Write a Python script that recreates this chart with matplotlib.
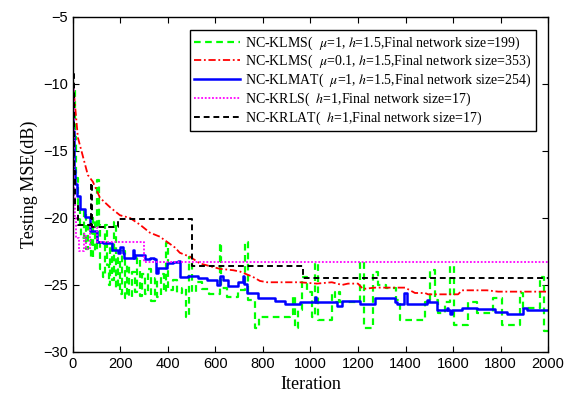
import numpy as np
import matplotlib
matplotlib.use('Agg')
import matplotlib.pyplot as plt

plt.rcParams['mathtext.fontset'] = 'stix'

# NC-KLMS mu=1 (green)
klms1_it = [0, 5, 10, 15, 20, 28, 35, 45, 55, 65, 75, 85, 95, 100, 108, 115, 125, 135, 142, 150,
            158, 165, 172, 180, 190, 198, 208, 218, 228, 238, 250, 260, 270, 282, 292, 305, 318, 330,
            345, 355, 370, 385, 393, 402, 420, 440, 460, 475, 490, 500, 520, 545, 575, 618, 625, 650,
            695, 726, 735, 765, 785, 915, 925, 935, 948, 965, 985, 1005, 1018, 1030, 1092, 1105, 1120,
            1125, 1210, 1225, 1265, 1283, 1320, 1360, 1375, 1480, 1505, 1525, 1535, 1565, 1588, 1605,
            1665, 1700, 1770, 1808, 1880, 1893, 1965, 1985, 2000]
klms1_db = [-11, -10.4, -14, -17, -19, -20.7, -21.5, -19.5, -22.3, -20.5, -23, -20, -22.5, -17.2,
            -20.5, -23.8, -24.4, -20.5, -23.5, -25, -22, -24.6, -20.3, -25.2, -23, -25.7, -22.5, -26,
            -23.5, -25.9, -24, -25.5, -23, -25.8, -24.2, -25.7, -23.8, -26.2, -24.5, -25.9, -24.2,
            -25.5, -21.9, -25.4, -24.6, -25.6, -25.2, -27.4, -22.9, -25.5, -24.8, -25.3, -25.7, -21.9,
            -25.2, -25.9, -25.4, -21.8, -26.1, -28.2, -27.4, -27.2, -25.8, -28.2, -26.9, -24.4, -25.5,
            -27.4, -23.4, -27.6, -25.5, -26.3, -25.5, -26.3, -23.3, -28.2, -24, -25, -25.2, -26.1,
            -27.6, -26.3, -23.9, -26.1, -27.1, -26.3, -23.6, -28, -26.3, -27.1, -26, -28, -25.6,
            -26.7, -24.4, -28.4, -28.4]

# NC-KLMS mu=0.1 (red)
klms01_it = [0, 8, 21, 42, 63, 84, 114, 156, 198, 240, 282, 324, 366, 429, 450, 493, 535, 619, 674,
             703, 758, 787, 817, 955, 1027, 1090, 1133, 1158, 1200, 1221, 1271, 1398, 1440, 1482,
             1495, 1558, 1621, 1638, 1700, 1743, 1790, 1882, 2000]
klms01_db = [-9.7, -11.4, -14, -15.4, -16.8, -17.3, -18.5, -19.2, -19.8, -20, -20.5, -21.1, -21.4,
             -22.2, -22.6, -22.9, -23.4, -23.8, -23.9, -24, -24.4, -24.7, -24.8, -24.8, -24.9, -24.8,
             -25, -24.9, -24.9, -25.3, -25.2, -25.2, -25.6, -25.6, -25.7, -25.7, -25.7, -25.4, -25.4,
             -25.4, -25.5, -25.5, -25.5]

# NC-KLMAT (blue)
klmat_it = [0, 2, 4, 8, 17, 29, 50, 72, 100, 127, 165, 190, 200, 210, 215, 253, 258, 260, 303, 325,
            340, 350, 360, 395, 420, 442, 450, 485, 525, 565, 606, 619, 630, 652, 695, 716, 722, 732,
            780, 850, 893, 955, 1019, 1025, 1061, 1112, 1133, 1208, 1271, 1356, 1366, 1394, 1406,
            1490, 1497, 1532, 1575, 1580, 1587, 1596, 1638, 1700, 1777, 1827, 1895, 1911, 2000]
klmat_db = [-12.5, -13.5, -16.4, -17.5, -18.4, -19.3, -19.9, -21, -21.8, -21.9, -22.4, -22.6, -22.2,
            -22.6, -23, -22.4, -23, -22.8, -23.1, -23, -23.1, -24.1, -23.7, -23.4, -23.3, -23.2,
            -24.4, -24.3, -24.5, -24.6, -25, -24.3, -24.6, -25.1, -24.8, -24.3, -24.9, -25.6, -26,
            -26.2, -26.4, -26.3, -25.9, -26.3, -26.3, -26.6, -26.2, -26.4, -26, -26.3, -26.4, -25.6,
            -26.4, -26.1, -26.3, -26.9, -26.7, -26.9, -27.2, -26.9, -26.7, -26.8, -27, -27.2, -26.7,
            -26.9, -26.9]

# NC-KRLS (magenta)
krls_it = [0, 3, 6, 10, 15, 25, 45, 55, 70, 100, 300, 2000]
krls_db = [-10.2, -15, -18.5, -20, -21.5, -22.5, -21.2, -22.3, -20.7, -21.8, -23.3, -23.3]

# NC-KRLAT (black)
krlat_it = [0, 3, 6, 10, 20, 78, 82, 190, 500, 968, 2000]
krlat_db = [-9.3, -13, -16.5, -19, -20.5, -17.4, -20.7, -20.1, -23.6, -24.5, -24.5]

labels = [r'NC-KLMS(  $\mu$=1, $h$=1.5,Final network size=199)',
          r'NC-KLMS(  $\mu$=0.1, $h$=1.5,Final network size=353)',
          r'NC-KLMAT(  $\mu$=1, $h$=1.5,Final network size=254)',
          r'NC-KRLS(  $h$=1,Final network size=17)',
          r'NC-KRLAT(  $h$=1,Final network size=17)']

fig = plt.figure(figsize=(5.65, 4.11), dpi=100)
ax = fig.add_axes([0.129, 0.1436, 0.841, 0.8155])

ax.plot(klms1_it, klms1_db, color=(0, 1, 0), ls=(0, (3, 2)), lw=1.6, drawstyle='steps-post', label=labels[0])
ax.plot(klms01_it, klms01_db, color='red', ls=(0, (4, 1.5, 1, 1.5)), lw=1.3, label=labels[1])
ax.plot(klmat_it, klmat_db, color='blue', ls='-', lw=1.8, drawstyle='steps-post', label=labels[2])
ax.plot(krls_it, krls_db, color='magenta', ls=(0, (1, 1)), lw=1.3, drawstyle='steps-post', label=labels[3])
ax.plot(krlat_it, krlat_db, color='black', ls=(0, (3, 2)), lw=1.4, drawstyle='steps-post', label=labels[4])

ax.set_xlim(0, 2000)
ax.set_ylim(-30, -5)
ax.set_xticks(np.arange(0, 2001, 200))
ax.set_yticks(np.arange(-30, -4, 5))
ax.tick_params(direction='in', top=True, right=True, labelsize=10.5, length=4)
for t in ax.get_xticklabels() + ax.get_yticklabels():
    t.set_family('Liberation Sans')
for s in ax.spines.values():
    s.set_linewidth(1.0)

ax.set_xlabel('Iteration', family='Liberation Serif', fontsize=13)
ax.set_ylabel('Testing MSE(dB)', family='Liberation Serif', fontsize=13)

leg = ax.legend(loc='upper right', prop={'family': 'Liberation Serif', 'size': 10},
                handlelength=3.3, handletextpad=0.4, labelspacing=0.1, borderpad=0.3,
                fancybox=False, framealpha=1, edgecolor='black', bbox_to_anchor=(0.989, 0.981))
leg.get_frame().set_linewidth(1.0)

fig.savefig('out.png', dpi=100)
